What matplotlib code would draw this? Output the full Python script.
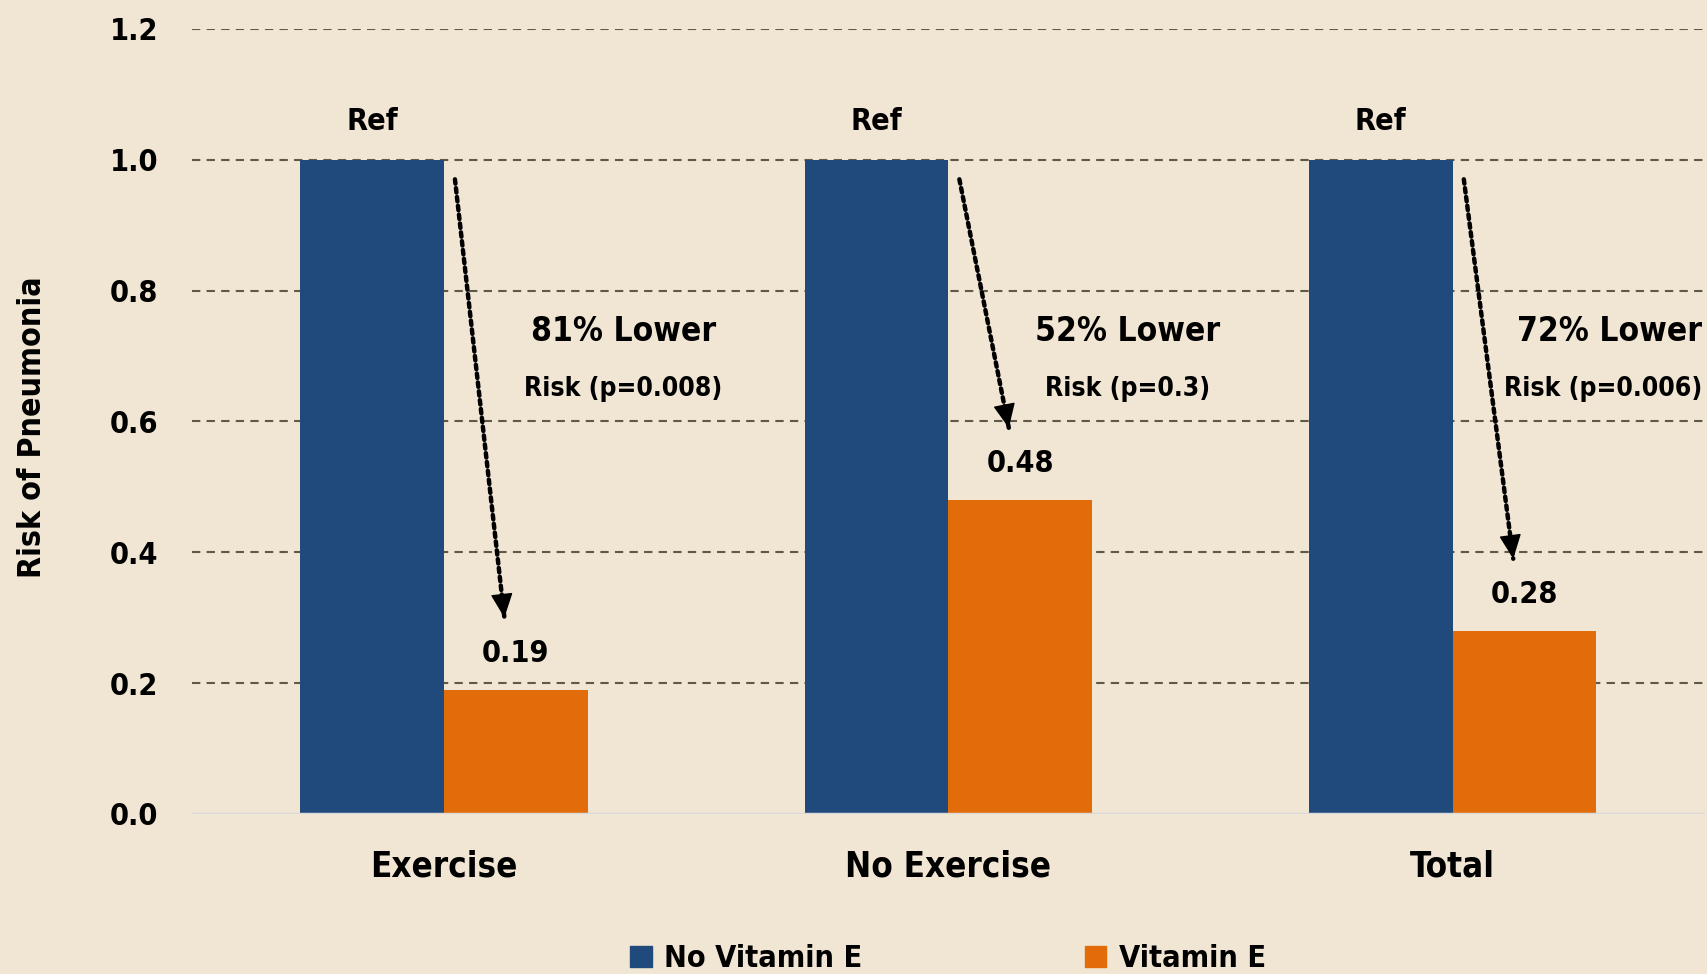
import numpy as np
import matplotlib.pyplot as plt
from matplotlib.patches import Patch

# Chart data
categories = ["Exercise", "No Exercise", "Total"]
no_vit_e = [1.0, 1.0, 1.0]
vit_e = [0.19, 0.48, 0.28]
vit_e_labels = ["0.19", "0.48", "0.28"]
headline = ["81% Lower", "52% Lower", "72% Lower"]
subline = ["Risk (p=0.008)", "Risk (p=0.3)", "Risk (p=0.006)"]
y_ticks = [0.0, 0.2, 0.4, 0.6, 0.8, 1.0, 1.2]

BG = "#F1E6D3"
BLUE = "#20497C"
ORANGE = "#E36C0A"

plt.rcParams["font.family"] = ["DejaVu Sans"]
plt.rcParams["font.weight"] = "bold"
plt.rcParams["font.stretch"] = "condensed"

fig = plt.figure(figsize=(17.08, 9.74), dpi=100, facecolor=BG)
ax = fig.add_axes([0.1122, 0.1644, 0.886, 0.806], facecolor=BG)

x = np.arange(len(categories))
w = 0.285

ax.bar(x - w / 2, no_vit_e, w, color=BLUE, zorder=2, label="No Vitamin E")
ax.bar(x + w / 2, vit_e, w, color=ORANGE, zorder=2, label="Vitamin E")

# dashed gridlines (not at zero)
for yv in y_ticks[1:]:
    ax.axhline(yv, color="#5E5A47", linestyle=(0, (4, 3)), linewidth=1.5, zorder=1)
ax.axhline(0, color="#D9D9D9", linewidth=2.5, zorder=3)

# labels above bars
for i in range(len(categories)):
    ax.text(x[i] - w / 2, no_vit_e[i] + 0.058, "Ref", ha="center", va="center",
            fontsize=22, fontweight="bold")
    ax.text(x[i] + w / 2, vit_e[i] + 0.055, vit_e_labels[i], ha="center", va="center",
            fontsize=22, fontweight="bold")

# dotted arrows (dotted shaft + solid head) and risk text
text_off = [0.356, 0.356, 0.317]
for i in range(len(categories)):
    x0, y0 = x[i] + 0.022, no_vit_e[i] - 0.03
    x1, y1 = x[i] + 0.12, vit_e[i] + 0.11
    ax.annotate("", xy=(x1, y1), xytext=(x0, y0),
                arrowprops=dict(arrowstyle="-", linestyle=(0, (1, 1)), lw=3.2,
                                color="black", shrinkA=0, shrinkB=0),
                zorder=4)
    t = 0.96
    ax.annotate("", xy=(x1, y1), xytext=(x0 + t * (x1 - x0), y0 + t * (y1 - y0)),
                arrowprops=dict(arrowstyle="-|>,head_length=0.7,head_width=0.32",
                                lw=1, color="black", mutation_scale=22,
                                shrinkA=0, shrinkB=0),
                zorder=4)
    if i == len(categories) - 1:
        ax.text(2.495, 0.737, headline[i], ha="right", va="center",
                fontsize=24, fontweight="bold")
        ax.text(2.495, 0.65, subline[i], ha="right", va="center",
                fontsize=19, fontweight="bold")
    else:
        ax.text(x[i] + text_off[i], 0.737, headline[i], ha="center", va="center",
                fontsize=24, fontweight="bold")
        ax.text(x[i] + text_off[i], 0.65, subline[i], ha="center", va="center",
                fontsize=19, fontweight="bold")

ax.set_xlim(-0.5, 2.5)
ax.set_ylim(0, 1.2)
ax.set_yticks(y_ticks)
ax.set_yticklabels([f"{v:.1f}" for v in y_ticks])
ax.set_xticks(x)
ax.set_xticklabels(categories)
ax.tick_params(axis="y", length=0, pad=24, labelsize=22)
ax.tick_params(axis="x", length=0, pad=26, labelsize=25)
for lab in ax.get_xticklabels() + ax.get_yticklabels():
    lab.set_fontweight("bold")

for s in ax.spines.values():
    s.set_visible(False)

fig.text(0.019, 0.561, "Risk of Pneumonia", rotation=90, ha="center", va="center",
         fontsize=23, fontweight="bold")

handles = [Patch(color=BLUE, label="No Vitamin E"), Patch(color=ORANGE, label="Vitamin E")]
fig.legend(handles=handles, loc="center", bbox_to_anchor=(0.555, 0.016), ncol=2,
           frameon=False, fontsize=22, handlelength=0.7, handleheight=0.7,
           handletextpad=0.4, columnspacing=7.3)

fig.savefig("out.png", dpi=100, facecolor=BG)
